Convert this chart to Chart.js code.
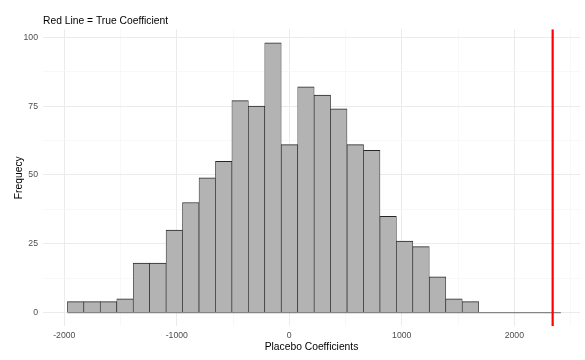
<!DOCTYPE html>
<html>
<head>
<meta charset="utf-8">
<script src="https://cdn.jsdelivr.net/npm/chart.js@4/dist/chart.umd.min.js"></script>
<style>
  html, body { margin: 0; padding: 0; background: #ffffff; }
  #wrap { width: 585px; height: 360px; position: relative; }
</style>
</head>
<body>
<div id="wrap"><canvas id="c" width="585" height="360"></canvas></div>
<script>
// ---- data ----
const binCenters = [-1899, -1753, -1607, -1460, -1314, -1168, -1022, -876, -729, -583,
                    -437, -291, -145, 2, 148, 294, 440, 587, 733, 879,
                    1025, 1171, 1318, 1464, 1610, 1756, 1902, 2049, 2195, 2341];
const counts = [4, 4, 4, 5, 18, 18, 30, 40, 49, 55,
                77, 75, 98, 61, 82, 79, 74, 61, 59, 35,
                26, 24, 13, 5, 4, 0, 0, 0, 0, 0];
const binRange = [-1972, 2414];
const trueCoefficient = 2341;
const xLimits = [-2189, 2584];
const yLimits = [-4.9, 102.9];
const xGridValues = [-2000, -1500, -1000, -500, 0, 500, 1000, 1500, 2000, 2500];
const xTickLabels = [-2000, -1000, 0, 1000, 2000];
const yGridValues = [0, 12.5, 25, 37.5, 50, 62.5, 75, 87.5, 100];
const yTickLabels = [0, 25, 50, 75, 100];
const titleText = 'Red Line = True Coefficient';
const xTitle = 'Placebo Coefficients';
const yTitle = 'Frequecy';

// ---- chart ----
const FONT = '"Liberation Sans", Arial, sans-serif';
const barData = binCenters.map((x, i) => ({ x: x, y: counts[i] }));

const titlePlugin = {
  id: 'plotTitle',
  afterDraw(chart) {
    const ctx = chart.ctx;
    ctx.save();
    ctx.font = '10.3px ' + FONT;
    ctx.fillStyle = '#000000';
    ctx.textBaseline = 'middle';
    ctx.textAlign = 'left';
    ctx.fillText(titleText, chart.chartArea.left, 20.7);
    ctx.restore();
  }
};

const isMajor = (c, labels) => c.tick && labels.includes(c.tick.value);

new Chart(document.getElementById('c'), {
  data: {
    datasets: [
      {
        type: 'line',
        data: [{ x: trueCoefficient, y: yLimits[0] }, { x: trueCoefficient, y: yLimits[1] }],
        borderColor: '#FF0000',
        borderWidth: 2.2,
        pointRadius: 0,
        fill: false
      },
      {
        type: 'line',
        data: [{ x: binRange[0], y: 0 }, { x: binRange[1], y: 0 }],
        borderColor: '#858585',
        borderWidth: 1.3,
        pointRadius: 0,
        fill: false
      },
      {
        type: 'bar',
        data: barData,
        backgroundColor: '#B3B3B3',
        borderColor: '#262626',
        borderWidth: { top: 1, bottom: 0, left: 0.65, right: 0.65 },
        borderSkipped: false,
        barPercentage: 1,
        categoryPercentage: 1
      }
    ]
  },
  options: {
    responsive: false,
    animation: false,
    events: [],
    layout: { padding: { left: 0, right: 5, top: 29.3, bottom: 0 } },
    plugins: {
      legend: { display: false },
      tooltip: { enabled: false },
      title: { display: false }
    },
    scales: {
      x: {
        type: 'linear',
        position: 'bottom',
        offset: false,
        min: xLimits[0],
        max: xLimits[1],
        afterBuildTicks(scale) { scale.ticks = xGridValues.map(v => ({ value: v })); },
        afterFit(scale) { scale.height = 33.8; },
        border: { display: false },
        grid: {
          offset: false,
          drawTicks: false,
          color: (c) => isMajor(c, xTickLabels) ? '#EBEBEB' : '#F5F5F5',
          lineWidth: (c) => isMajor(c, xTickLabels) ? 1 : 0.7
        },
        ticks: {
          autoSkip: false,
          maxRotation: 0,
          minRotation: 0,
          padding: 4.5,
          color: '#4D4D4D',
          font: { family: FONT, size: 8.7 },
          callback: (v) => xTickLabels.includes(v) ? String(v) : ''
        },
        title: {
          display: true,
          text: xTitle,
          color: '#000000',
          font: { family: FONT, size: 10.3 },
          padding: { top: 0, bottom: 6.5 }
        }
      },
      y: {
        type: 'linear',
        position: 'left',
        min: yLimits[0],
        max: yLimits[1],
        afterBuildTicks(scale) { scale.ticks = yGridValues.map(v => ({ value: v })); },
        afterFit(scale) { scale.width = 43; },
        border: { display: false },
        grid: {
          drawTicks: false,
          color: (c) => isMajor(c, yTickLabels) ? '#EBEBEB' : '#F5F5F5',
          lineWidth: (c) => isMajor(c, yTickLabels) ? 1 : 0.7
        },
        ticks: {
          autoSkip: false,
          padding: 5,
          color: '#4D4D4D',
          font: { family: FONT, size: 8.7 },
          callback: (v) => yTickLabels.includes(v) ? String(v) : ''
        },
        title: {
          display: true,
          text: yTitle,
          color: '#000000',
          font: { family: FONT, size: 10.3 },
          padding: { top: 12.5, bottom: 0 }
        }
      }
    }
  },
  plugins: [titlePlugin]
});
</script>
</body>
</html>
